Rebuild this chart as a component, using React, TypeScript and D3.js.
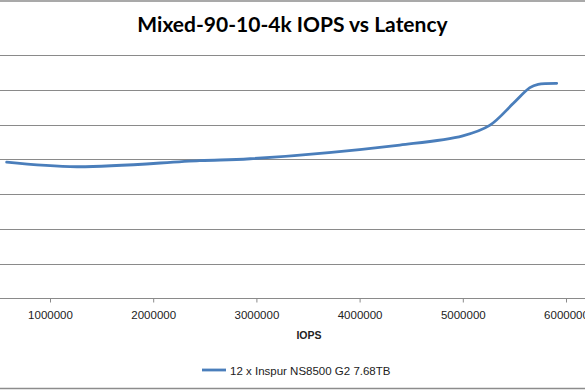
import React, { useEffect, useRef } from "react";
import * as d3 from "d3";

const iops = [580000, 1260000, 2450000, 2940000, 4390000, 5000000, 5260000, 5490000, 5650000, 5730000, 5910000];
const latency = [0.783, 0.757, 0.792, 0.803, 0.882, 0.935, 0.995, 1.122, 1.212, 1.231, 1.237];
const xTicks = [1000000, 2000000, 3000000, 4000000, 5000000, 6000000];
const yTicks = [0, 0.2, 0.4, 0.6, 0.8, 1.0, 1.2, 1.4];
const seriesName = "12 x Inspur NS8500 G2 7.68TB";
const title = "Mixed-90-10-4k IOPS vs Latency";

const W = 585, H = 390;

export default function App() {
  const ref = useRef<SVGSVGElement>(null);

  useEffect(() => {
    const svg = d3.select(ref.current);
    svg.selectAll("*").remove();

    const x = d3.scaleLinear().domain([0, 7000000]).range([-53.2, 669.2]);
    const y = d3.scaleLinear().domain([0, 1.4]).range([298.3, 55]);

    svg.append("rect").attr("width", W).attr("height", H).attr("fill", "#fff");

    // chart border (left/right edges fall outside the crop)
    svg.append("line").attr("x1", 0).attr("x2", W).attr("y1", 1).attr("y2", 1)
      .attr("stroke", "#8c8c8c").attr("stroke-width", 1.5);
    svg.append("line").attr("x1", 0).attr("x2", W).attr("y1", 388.5).attr("y2", 388.5)
      .attr("stroke", "#8c8c8c").attr("stroke-width", 1.5);

    svg.append("text")
      .attr("x", 292.5).attr("y", 32)
      .attr("text-anchor", "middle")
      .style("font-family", "Lato, 'Liberation Sans', sans-serif")
      .style("font-weight", "bold").style("font-size", "21px")
      .attr("fill", "#000")
      .text(title);

    // gridlines
    svg.append("g").selectAll("line")
      .data(yTicks.slice(1))
      .join("line")
      .attr("x1", 0).attr("x2", W)
      .attr("y1", d => Math.round(y(d)) + 0.5).attr("y2", d => Math.round(y(d)) + 0.5)
      .attr("stroke", "#8a8a8a").attr("stroke-width", 1);

    const xAxis = svg.append("g")
      .attr("transform", `translate(0, ${Math.round(y(0)) + 0.5})`)
      .call(d3.axisBottom(x).tickValues(xTicks).tickFormat(d3.format("d")).tickSize(4).tickSizeOuter(0).tickPadding(8));
    xAxis.select(".domain").attr("stroke", "#8a8a8a").attr("d", `M0,0H${W}`);
    xAxis.selectAll(".tick line").attr("stroke", "#8a8a8a");
    xAxis.selectAll(".tick text")
      .style("font-family", "'Liberation Sans', Arial, sans-serif")
      .style("font-size", "11.5px").attr("fill", "#222");

    svg.append("text")
      .attr("x", 309).attr("y", 339)
      .attr("text-anchor", "middle")
      .style("font-family", "'Liberation Sans', Arial, sans-serif")
      .style("font-weight", "bold").style("font-size", "10.5px")
      .attr("fill", "#222")
      .text("IOPS");

    const pts: [number, number][] = iops.map((v, i) => [v, latency[i]]);
    const line = d3.line<[number, number]>()
      .x(d => x(d[0])).y(d => y(d[1]))
      .curve(d3.curveCatmullRom.alpha(0.5));
    svg.append("path")
      .attr("d", line(pts))
      .attr("fill", "none")
      .attr("stroke", "#4a7ebb")
      .attr("stroke-width", 2.8)
      .attr("stroke-linecap", "round");

    // legend
    svg.append("line")
      .attr("x1", 202).attr("x2", 226).attr("y1", 370).attr("y2", 370)
      .attr("stroke", "#4a7ebb").attr("stroke-width", 2.8);
    svg.append("text")
      .attr("x", 230).attr("y", 375)
      .style("font-family", "'Liberation Sans', Arial, sans-serif")
      .style("font-size", "11.5px")
      .attr("fill", "#222")
      .text(seriesName);
  }, []);

  return (
    <svg ref={ref} width={W} height={H}
      style={{ position: "absolute", left: 0, top: 0, display: "block" }} />
  );
}
